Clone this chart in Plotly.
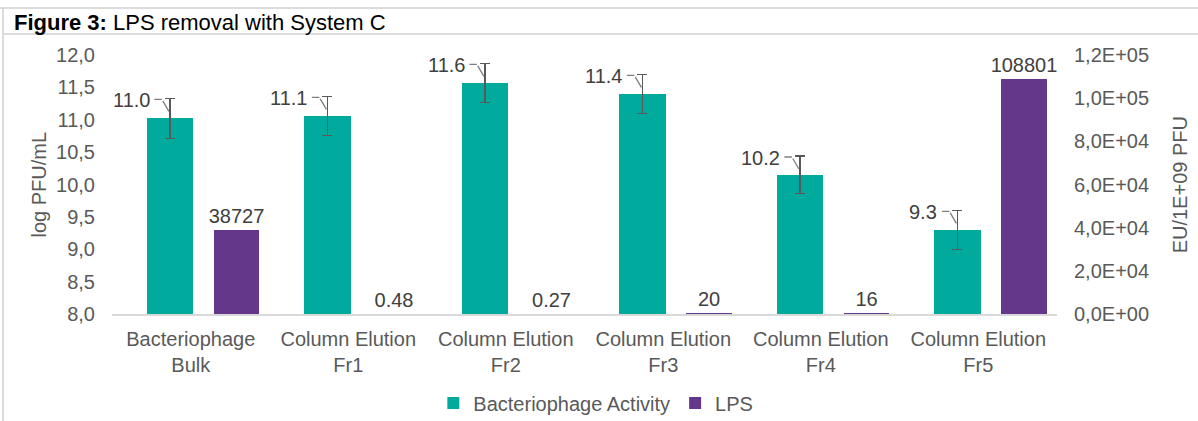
import plotly.graph_objects as go

categories = ["Bacteriophage<br>Bulk", "Column Elution<br>Fr1", "Column Elution<br>Fr2",
              "Column Elution<br>Fr3", "Column Elution<br>Fr4", "Column Elution<br>Fr5"]
phage_log_pfu = [11.02, 11.06, 11.57, 11.40, 10.15, 9.30]
phage_err = [0.31, 0.30, 0.30, 0.30, 0.29, 0.30]
phage_labels = ["11.0", "11.1", "11.6", "11.4", "10.2", "9.3"]
lps_eu = [38727, 0.48, 0.27, 20, 16, 108801]
lps_labels = ["38727", "0.48", "0.27", "20", "16", "108801"]
left_ticks = [8.0, 8.5, 9.0, 9.5, 10.0, 10.5, 11.0, 11.5, 12.0]
left_ticktext = ["8,0", "8,5", "9,0", "9,5", "10,0", "10,5", "11,0", "11,5", "12,0"]
right_ticks = [0, 20000, 40000, 60000, 80000, 100000, 120000]
right_ticktext = ["0,0E+00", "2,0E+04", "4,0E+04", "6,0E+04", "8,0E+04", "1,0E+05", "1,2E+05"]

TEAL = "#00AB9E"
PURPLE = "#65378B"
GRAY = "#595959"
FONT = "Liberation Sans"

xs = list(range(len(categories)))
teal_off, teal_w = -0.28, 0.295
purp_off, purp_w = 0.145, 0.29

fig = go.Figure()
fig.add_trace(go.Bar(
    x=xs, y=phage_log_pfu, name="Bacteriophage Activity",
    marker=dict(color=TEAL, line=dict(width=0)),
    offset=teal_off, width=teal_w, yaxis="y",
    error_y=dict(type="data", array=phage_err, visible=True, color=GRAY, thickness=1.5, width=5),
))
fig.add_trace(go.Bar(
    x=xs, y=lps_eu, name="LPS",
    marker=dict(color=PURPLE, line=dict(width=0)),
    offset=purp_off, width=purp_w, yaxis="y2",
    text=lps_labels, textposition="outside", cliponaxis=False, constraintext="none",
    textfont=dict(family=FONT, size=20, color="#404040"),
))

annotations = []
teal_center = teal_off + teal_w / 2
for i, (v, e, lab) in enumerate(zip(phage_log_pfu, phage_err, phage_labels)):
    xc = xs[i] + teal_center
    yt = v + e
    annotations.append(dict(x=xc, y=yt, xref="x", yref="y", text=lab, showarrow=False,
                            xanchor="right", yanchor="middle", xshift=-18, yshift=-2,
                            font=dict(family=FONT, size=20, color="#404040")))
    annotations.append(dict(x=xc, y=yt, xref="x", yref="y", text="", showarrow=True,
                            arrowhead=0, arrowwidth=1.3, arrowcolor="#7f7f7f",
                            standoff=0, startstandoff=0,
                            xshift=-1, yshift=-13, ax=-7, ay=-12))
    annotations.append(dict(x=xc, y=yt, xref="x", yref="y", text="", showarrow=True,
                            arrowhead=0, arrowwidth=1.3, arrowcolor="#7f7f7f",
                            standoff=0, startstandoff=0,
                            xshift=-8, yshift=-1, ax=-9, ay=0))

annotations.append(dict(x=-0.1058, y=1.125, xref="paper", yref="paper", showarrow=False,
                        text="<b>Figure 3:</b> LPS removal with System C", xanchor="left",
                        yanchor="middle", font=dict(family=FONT, size=22, color="black")))
annotations.append(dict(x=-0.0783, y=0.5, xref="paper", yref="paper", showarrow=False,
                        text="log PFU/mL", textangle=-90, xanchor="center", yanchor="middle",
                        font=dict(family=FONT, size=20, color=GRAY)))
annotations.append(dict(x=1.130, y=0.5, xref="paper", yref="paper", showarrow=False,
                        text="EU/1E+09 PFU", textangle=-90, xanchor="center", yanchor="middle",
                        font=dict(family=FONT, size=20, color=GRAY)))

shapes = [
    dict(type="line", xref="paper", yref="paper", x0=-0.2, x1=1.2, y0=1.1815, y1=1.1815,
         line=dict(color="#d0d0d0", width=1.5)),
    dict(type="line", xref="paper", yref="paper", x0=-0.1153, x1=1.2, y0=1.081, y1=1.081,
         line=dict(color="#d0d0d0", width=1.5)),
    dict(type="line", xref="paper", yref="paper", x0=-0.1153, x1=-0.1153, y0=1.1815, y1=-0.45,
         line=dict(color="#d0d0d0", width=1.5)),
]

fig.update_layout(
    width=1198, height=421,
    margin=dict(l=112, r=141, t=55, b=107, autoexpand=False),
    paper_bgcolor="white", plot_bgcolor="white",
    font=dict(family=FONT, size=20, color=GRAY),
    showlegend=True,
    legend=dict(orientation="h", x=0.512, xanchor="center", y=-0.344, yanchor="middle",
                font=dict(family=FONT, size=20, color=GRAY), itemwidth=30,
                traceorder="normal"),
    xaxis=dict(range=[-0.5, 5.5], tickvals=xs, ticktext=categories, showline=True,
               linecolor="#d9d9d9", linewidth=2, showgrid=False, zeroline=False,
               ticks="outside", ticklen=6, tickcolor="rgba(0,0,0,0)",
               tickfont=dict(family=FONT, size=20, color=GRAY), automargin=False),
    yaxis=dict(range=[8, 12], tickvals=left_ticks, ticktext=left_ticktext, showline=False,
               showgrid=False, zeroline=False, ticks="outside", ticklen=12,
               tickcolor="rgba(0,0,0,0)", tickfont=dict(family=FONT, size=20, color=GRAY),
               automargin=False),
    yaxis2=dict(range=[0, 120000], tickvals=right_ticks, ticktext=right_ticktext,
                overlaying="y", side="right", showline=False, showgrid=False, zeroline=False,
                ticks="outside", ticklen=12, tickcolor="rgba(0,0,0,0)",
                tickfont=dict(family=FONT, size=20, color=GRAY), automargin=False),
    annotations=annotations,
    shapes=shapes,
    bargap=0, barmode="overlay",
)

fig.write_html("out.html", config={"displayModeBar": False},
               post_script="document.body.style.margin='0';")
